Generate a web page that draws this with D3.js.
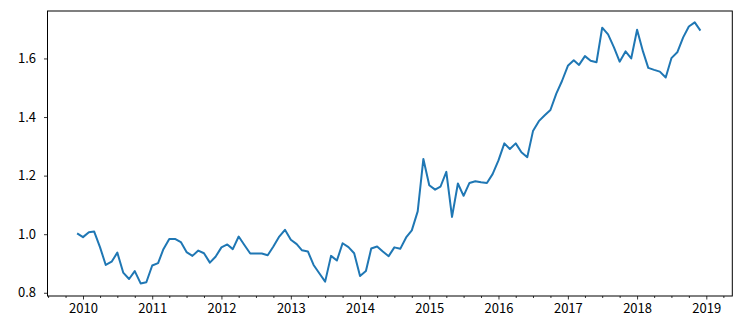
<!DOCTYPE html>
<html>
<head>
<meta charset="utf-8">
<script src="https://cdn.jsdelivr.net/npm/d3@7"></script>
<style>
  body { margin: 0; background: #fff; }
  text { font-family: "Noto Sans CJK SC", "DejaVu Sans", sans-serif; font-size: 13px; fill: #000; }
</style>
</head>
<body>
<div id="chart"></div>
<script>
let w = 750, h = 326;
let padL = 47.5, padR = 732.3, padT = 11, padB = 296;

// monthly values, Dec 2009 .. Dec 2018
const values = [
  1.003, 0.990, 1.007, 1.009, 0.955, 0.895, 0.906, 0.937, 0.869, 0.847, 0.874, 0.832, 0.836,
  0.893, 0.901, 0.949, 0.984, 0.984, 0.973, 0.939, 0.926, 0.944, 0.935, 0.903, 0.923,
  0.955, 0.965, 0.949, 0.992, 0.963, 0.934, 0.934, 0.934, 0.928, 0.958, 0.992, 1.015,
  0.981, 0.966, 0.945, 0.941, 0.895, 0.866, 0.838, 0.926, 0.910, 0.969, 0.956, 0.935,
  0.857, 0.874, 0.951, 0.958, 0.941, 0.925, 0.955, 0.950, 0.989, 1.013, 1.078, 1.257,
  1.167, 1.152, 1.162, 1.213, 1.059, 1.173, 1.131, 1.175, 1.181, 1.177, 1.175, 1.205,
  1.252, 1.310, 1.291, 1.310, 1.280, 1.263, 1.352, 1.386, 1.406, 1.424, 1.480, 1.523,
  1.575, 1.594, 1.578, 1.608, 1.592, 1.587, 1.705, 1.682, 1.638, 1.589, 1.624, 1.600,
  1.698, 1.624, 1.568, 1.561, 1.555, 1.535, 1.601, 1.621, 1.672, 1.709, 1.723, 1.695
];
const months = d3.timeMonth.range(new Date(2009, 11, 1), new Date(2019, 0, 1));
const yTicks = [0.8, 1.0, 1.2, 1.4, 1.6];
const data = months.map((d, i) => ({date: d, value: values[i]}));

let svg = d3.select("#chart").append("svg")
    .attr("width", w)
    .attr("height", h);

let x = d3.scaleTime()
    .domain([new Date(2010, 0, 1), new Date(2019, 0, 1)])
    .range([83, 706.3]);
let y = d3.scaleLinear()
    .domain([0.789, 1.762])
    .range([padB, padT]);

// x axis: yearly major ticks, quarterly minor ticks
let majors = d3.timeYear.range(new Date(2010, 0, 1), new Date(2019, 1, 1));
let minors = d3.timeMonth.every(3).range(new Date(2009, 0, 1), new Date(2020, 0, 1))
    .filter(d => d.getMonth() != 0 && x(d) >= padL && x(d) <= padR);

let xAxis = svg.append("g").attr("transform", "translate(0," + padB + ")")
    .call(d3.axisBottom(x).tickValues(majors).tickFormat(d3.timeFormat("%Y")).tickSizeOuter(0).tickSize(3.5).tickPadding(4));
xAxis.select(".domain").remove();
xAxis.selectAll("text").style("font-size", "13px").style("font-family", "'Noto Sans CJK SC', sans-serif");

let xMinor = svg.append("g").attr("transform", "translate(0," + padB + ")")
    .call(d3.axisBottom(x).tickValues(minors).tickFormat("").tickSize(2));
xMinor.select(".domain").remove();

let yAxis = svg.append("g").attr("transform", "translate(" + padL + ",0)")
    .call(d3.axisLeft(y).tickValues(yTicks).tickFormat(d3.format(".1f")).tickSize(3.5).tickPadding(8));
yAxis.select(".domain").remove();
yAxis.selectAll("text").style("font-size", "13px").style("font-family", "'Noto Sans CJK SC', sans-serif");

svg.selectAll(".tick line").attr("stroke", "#000").attr("stroke-width", 0.8);

// line
let line = d3.line()
    .x(d => x(d.date))
    .y(d => y(d.value));

svg.append("path")
    .datum(data)
    .attr("d", line)
    .attr("fill", "none")
    .attr("stroke", "#1f77b4")
    .attr("stroke-width", 2)
    .attr("stroke-linejoin", "round");

// frame
svg.append("rect")
    .attr("x", padL).attr("y", padT)
    .attr("width", padR - padL).attr("height", padB - padT)
    .attr("fill", "none")
    .attr("stroke", "#000")
    .attr("stroke-width", 1);
</script>
</body>
</html>
